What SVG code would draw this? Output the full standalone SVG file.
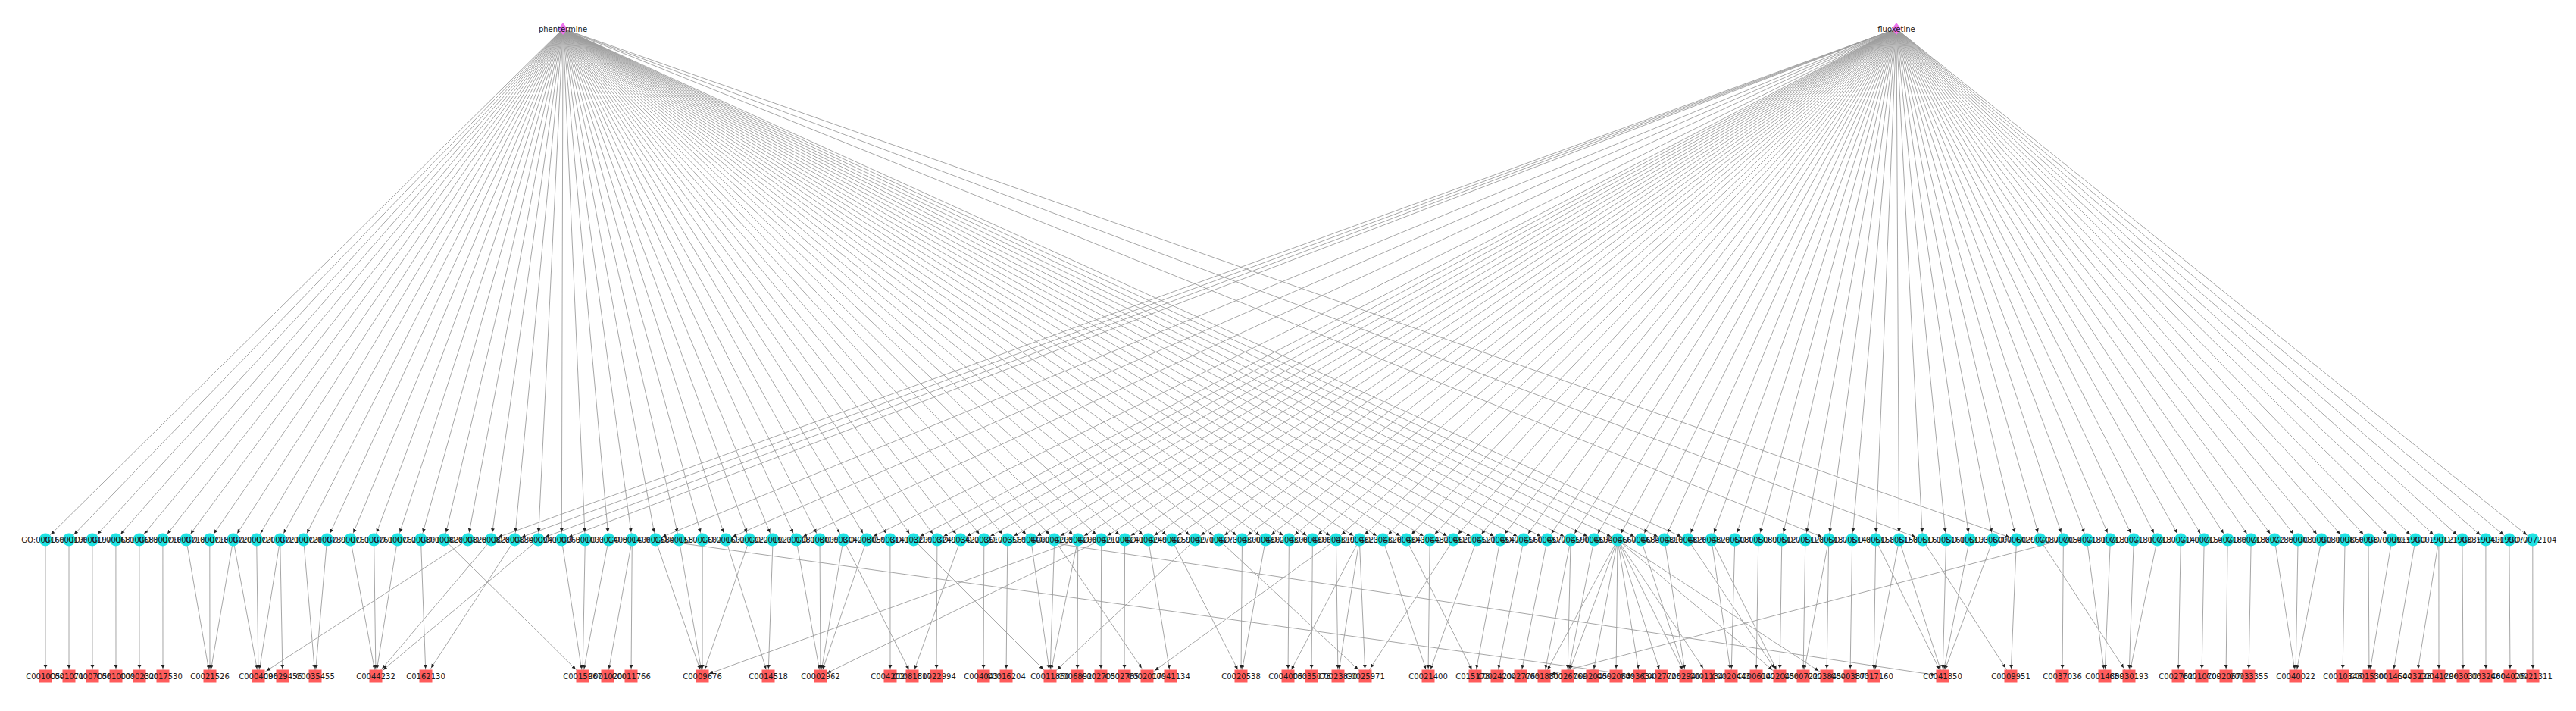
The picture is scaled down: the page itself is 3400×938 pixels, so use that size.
<svg xmlns="http://www.w3.org/2000/svg" width="3400" height="938" viewBox="0 0 3400 938">
<style>
.e{stroke:#9c9c9c;stroke-width:0.9;fill:none;marker-end:url(#a)}
.f{stroke:#9c9c9c;stroke-width:0.9;fill:none;marker-end:url(#b)}
.go circle{fill:#1fe3e3}
.cu rect{fill:#ff5c5c}
.dr polygon{fill:#ee72ee}
text{font-family:"DejaVu Sans","Liberation Sans",sans-serif;font-size:10px;fill:#1a1a1a;text-anchor:middle}
</style>
<defs>
<marker id="a" viewBox="0 0 15 6" refX="15" refY="3" markerWidth="15" markerHeight="6" markerUnits="userSpaceOnUse" orient="auto"><path d="M0,0.6L5,3L0,5.4z" fill="#222"/></marker>
<marker id="b" viewBox="0 0 18 6" refX="18" refY="3" markerWidth="18" markerHeight="6" markerUnits="userSpaceOnUse" orient="auto"><path d="M0,0.6L5,3L0,5.4z" fill="#222"/></marker>
</defs>
<rect width="3400" height="938" fill="#fff"/>
<g id="connectors">
<g id="from-phentermine">
<path class="e" d="M743 38L60 712"/><path class="e" d="M743 38L91 712"/><path class="e" d="M743 38L121.9 712"/><path class="e" d="M743 38L152.9 712"/><path class="e" d="M743 38L183.9 712"/><path class="e" d="M743 38L214.9 712"/><path class="e" d="M743 38L245.8 712"/><path class="e" d="M743 38L276.8 712"/><path class="e" d="M743 38L307.8 712"/><path class="e" d="M743 38L338.7 712"/><path class="e" d="M743 38L369.7 712"/><path class="e" d="M743 38L400.7 712"/><path class="e" d="M743 38L431.6 712"/><path class="e" d="M743 38L462.6 712"/><path class="e" d="M743 38L493.6 712"/><path class="e" d="M743 38L524.6 712"/><path class="e" d="M743 38L555.5 712"/><path class="e" d="M743 38L586.5 712"/><path class="e" d="M743 38L617.5 712"/><path class="e" d="M743 38L648.4 712"/><path class="e" d="M743 38L679.4 712"/><path class="e" d="M743 38L710.4 712"/><path class="e" d="M743 38L741.3 712"/><path class="e" d="M743 38L772.3 712"/><path class="e" d="M743 38L803.3 712"/><path class="e" d="M743 38L834.3 712"/><path class="e" d="M743 38L865.2 712"/><path class="e" d="M743 38L896.2 712"/><path class="e" d="M743 38L927.2 712"/><path class="e" d="M743 38L958.1 712"/><path class="e" d="M743 38L989.1 712"/><path class="e" d="M743 38L1020.1 712"/><path class="e" d="M743 38L1051 712"/><path class="e" d="M743 38L1082 712"/><path class="e" d="M743 38L1113 712"/><path class="e" d="M743 38L1144 712"/><path class="e" d="M743 38L1174.9 712"/><path class="e" d="M743 38L1205.9 712"/><path class="e" d="M743 38L1236.9 712"/><path class="e" d="M743 38L1267.8 712"/><path class="e" d="M743 38L1298.8 712"/><path class="e" d="M743 38L1329.8 712"/><path class="e" d="M743 38L1360.7 712"/><path class="e" d="M743 38L1391.7 712"/><path class="e" d="M743 38L1422.7 712"/><path class="e" d="M743 38L1453.7 712"/><path class="e" d="M743 38L1484.6 712"/><path class="e" d="M743 38L1515.6 712"/><path class="e" d="M743 38L1546.6 712"/><path class="e" d="M743 38L1577.5 712"/><path class="e" d="M743 38L1608.5 712"/><path class="e" d="M743 38L1639.5 712"/><path class="e" d="M743 38L1670.4 712"/><path class="e" d="M743 38L1701.4 712"/><path class="e" d="M743 38L1732.4 712"/><path class="e" d="M743 38L1763.4 712"/><path class="e" d="M743 38L1794.3 712"/><path class="e" d="M743 38L1825.3 712"/><path class="e" d="M743 38L1856.3 712"/><path class="e" d="M743 38L1887.2 712"/><path class="e" d="M743 38L1918.2 712"/><path class="e" d="M743 38L1949.2 712"/><path class="e" d="M743 38L1980.1 712"/><path class="e" d="M743 38L2011.1 712"/><path class="e" d="M743 38L2042.1 712"/><path class="e" d="M743 38L2073.1 712"/><path class="e" d="M743 38L2104 712"/><path class="e" d="M743 38L2135 712"/><path class="e" d="M743 38L2166 712"/><path class="e" d="M743 38L2196.9 712"/><path class="e" d="M743 38L2227.9 712"/><path class="e" d="M743 38L2413.7 712"/><path class="e" d="M743 38L2537.6 712"/><path class="e" d="M743 38L2661.5 712"/>
</g>
<g id="from-fluoxetine">
<path class="e" d="M2503 38L648.4 712"/><path class="e" d="M2503 38L679.4 712"/><path class="e" d="M2503 38L710.4 712"/><path class="e" d="M2503 38L741.3 712"/><path class="e" d="M2503 38L865.2 712"/><path class="e" d="M2503 38L958.1 712"/><path class="e" d="M2503 38L1051 712"/><path class="e" d="M2503 38L1144 712"/><path class="e" d="M2503 38L1205.9 712"/><path class="e" d="M2503 38L1236.9 712"/><path class="e" d="M2503 38L1267.8 712"/><path class="e" d="M2503 38L1298.8 712"/><path class="e" d="M2503 38L1329.8 712"/><path class="e" d="M2503 38L1360.7 712"/><path class="e" d="M2503 38L1391.7 712"/><path class="e" d="M2503 38L1422.7 712"/><path class="e" d="M2503 38L1453.7 712"/><path class="e" d="M2503 38L1484.6 712"/><path class="e" d="M2503 38L1515.6 712"/><path class="e" d="M2503 38L1546.6 712"/><path class="e" d="M2503 38L1577.5 712"/><path class="e" d="M2503 38L1608.5 712"/><path class="e" d="M2503 38L1639.5 712"/><path class="e" d="M2503 38L1670.4 712"/><path class="e" d="M2503 38L1701.4 712"/><path class="e" d="M2503 38L1732.4 712"/><path class="e" d="M2503 38L1763.4 712"/><path class="e" d="M2503 38L1794.3 712"/><path class="e" d="M2503 38L1825.3 712"/><path class="e" d="M2503 38L1856.3 712"/><path class="e" d="M2503 38L1887.2 712"/><path class="e" d="M2503 38L1918.2 712"/><path class="e" d="M2503 38L1949.2 712"/><path class="e" d="M2503 38L1980.1 712"/><path class="e" d="M2503 38L2011.1 712"/><path class="e" d="M2503 38L2042.1 712"/><path class="e" d="M2503 38L2073.1 712"/><path class="e" d="M2503 38L2104 712"/><path class="e" d="M2503 38L2135 712"/><path class="e" d="M2503 38L2166 712"/><path class="e" d="M2503 38L2196.9 712"/><path class="e" d="M2503 38L2227.9 712"/><path class="e" d="M2503 38L2258.9 712"/><path class="e" d="M2503 38L2289.8 712"/><path class="e" d="M2503 38L2320.8 712"/><path class="e" d="M2503 38L2351.8 712"/><path class="e" d="M2503 38L2382.8 712"/><path class="e" d="M2503 38L2413.7 712"/><path class="e" d="M2503 38L2444.7 712"/><path class="e" d="M2503 38L2475.7 712"/><path class="e" d="M2503 38L2506.6 712"/><path class="e" d="M2503 38L2537.6 712"/><path class="e" d="M2503 38L2568.6 712"/><path class="e" d="M2503 38L2599.5 712"/><path class="e" d="M2503 38L2630.5 712"/><path class="e" d="M2503 38L2661.5 712"/><path class="e" d="M2503 38L2692.5 712"/><path class="e" d="M2503 38L2723.4 712"/><path class="e" d="M2503 38L2754.4 712"/><path class="e" d="M2503 38L2785.4 712"/><path class="e" d="M2503 38L2816.3 712"/><path class="e" d="M2503 38L2847.3 712"/><path class="e" d="M2503 38L2878.3 712"/><path class="e" d="M2503 38L2909.2 712"/><path class="e" d="M2503 38L2940.2 712"/><path class="e" d="M2503 38L2971.2 712"/><path class="e" d="M2503 38L3002.2 712"/><path class="e" d="M2503 38L3033.1 712"/><path class="e" d="M2503 38L3064.1 712"/><path class="e" d="M2503 38L3095.1 712"/><path class="e" d="M2503 38L3126 712"/><path class="e" d="M2503 38L3157 712"/><path class="e" d="M2503 38L3188 712"/><path class="e" d="M2503 38L3218.9 712"/><path class="e" d="M2503 38L3249.9 712"/><path class="e" d="M2503 38L3280.9 712"/><path class="e" d="M2503 38L3311.9 712"/><path class="e" d="M2503 38L3342.8 712"/>
</g>
<g id="go-to-compound">
<path class="e" d="M60 712L60 892"/><path class="e" d="M91 712L91 892"/><path class="e" d="M121.9 712L122 892"/><path class="e" d="M152.9 712L153 892"/><path class="e" d="M183.9 712L184 892"/><path class="e" d="M214.9 712L215 892"/>
<path class="e" d="M245.8 712L277 892"/><path class="e" d="M276.8 712L277 892"/><path class="e" d="M307.8 712L277 892"/><path class="e" d="M307.8 712L341 892"/><path class="e" d="M338.7 712L341 892"/><path class="e" d="M369.7 712L341 892"/><path class="e" d="M369.7 712L373 892"/><path class="e" d="M400.7 712L416 892"/><path class="e" d="M431.6 712L416 892"/><path class="e" d="M462.6 712L496 892"/><path class="e" d="M493.6 712L496 892"/><path class="e" d="M524.6 712L496 892"/><path class="e" d="M555.5 712L562 892"/>
<path class="f" d="M586.5 712L769 892"/><path class="f" d="M617.5 712L341 892"/><path class="f" d="M648.4 712L496 892"/><path class="f" d="M679.4 712L562 892"/><path class="f" d="M710.4 712L496 892"/>
<path class="e" d="M741.3 712L769 892"/><path class="e" d="M772.3 712L769 892"/><path class="e" d="M803.3 712L769 892"/><path class="e" d="M834.3 712L802 892"/><path class="e" d="M834.3 712L833 892"/><path class="e" d="M865.2 712L927 892"/><path class="e" d="M865.2 712L2164 892"/><path class="e" d="M896.2 712L927 892"/><path class="e" d="M927.2 712L927 892"/><path class="e" d="M958.1 712L1014 892"/><path class="e" d="M989.1 712L927 892"/><path class="e" d="M1020.1 712L1014 892"/><path class="e" d="M1051 712L1083 892"/><path class="e" d="M1082 712L1083 892"/><path class="e" d="M1113 712L1083 892"/><path class="e" d="M1113 712L1204 892"/><path class="e" d="M1144 712L1083 892"/><path class="e" d="M1174.9 712L1175 892"/>
<path class="f" d="M1205.9 712L1386 892"/><path class="e" d="M1236.9 712L1236 892"/><path class="e" d="M1267.8 712L1204 892"/><path class="e" d="M1298.8 712L1298 892"/><path class="e" d="M1329.8 712L1328 892"/><path class="e" d="M1360.7 712L1386 892"/><path class="e" d="M1360.7 712L2564 892"/><path class="e" d="M1391.7 712L1386 892"/><path class="f" d="M1391.7 712L1514 892"/><path class="e" d="M1422.7 712L1422 892"/><path class="e" d="M1422.7 712L1386 892"/><path class="e" d="M1422.7 712L927 892"/><path class="e" d="M1453.7 712L1453 892"/><path class="e" d="M1453.7 712L1083 892"/><path class="e" d="M1484.6 712L1484 892"/><path class="e" d="M1515.6 712L1545 892"/><path class="e" d="M1546.6 712L1638 892"/><path class="f" d="M1577.5 712L1386 892"/><path class="f" d="M1608.5 712L1802 892"/><path class="e" d="M1639.5 712L1638 892"/><path class="e" d="M1670.4 712L1638 892"/>
<path class="e" d="M1701.4 712L1700 892"/><path class="e" d="M1732.4 712L1731 892"/><path class="e" d="M1763.4 712L1766 892"/><path class="f" d="M1763.4 712L1514 892"/><path class="e" d="M1794.3 712L1766 892"/><path class="e" d="M1794.3 712L1802 892"/><path class="e" d="M1794.3 712L1700 892"/><path class="e" d="M1825.3 712L1885 892"/><path class="e" d="M1856.3 712L1947 892"/><path class="e" d="M1887.2 712L1885 892"/><path class="f" d="M1918.2 712L1802 892"/><path class="e" d="M1949.2 712L1885 892"/><path class="e" d="M1980.1 712L1947 892"/><path class="e" d="M2011.1 712L1976 892"/><path class="e" d="M2042.1 712L2007 892"/><path class="e" d="M2073.1 712L2069 892"/><path class="e" d="M2073.1 712L2038 892"/><path class="e" d="M2104 712L2069 892"/>
<path class="e" d="M2135 712L2038 892"/><path class="e" d="M2135 712L2069 892"/><path class="e" d="M2135 712L2102 892"/><path class="e" d="M2135 712L2133 892"/><path class="e" d="M2135 712L2164 892"/><path class="e" d="M2135 712L2193 892"/><path class="e" d="M2135 712L2225 892"/><path class="f" d="M2135 712L2255 892"/><path class="f" d="M2135 712L2349 892"/><path class="f" d="M2135 712L2411 892"/>
<path class="e" d="M2166 712L2225 892"/><path class="e" d="M2196.9 712L2225 892"/><path class="f" d="M2227.9 712L2349 892"/><path class="e" d="M2258.9 712L2285 892"/><path class="e" d="M2258.9 712L2349 892"/><path class="e" d="M2289.8 712L2285 892"/><path class="e" d="M2320.8 712L2318 892"/><path class="e" d="M2351.8 712L2349 892"/><path class="e" d="M2382.8 712L2380 892"/><path class="e" d="M2413.7 712L2380 892"/><path class="e" d="M2413.7 712L2411 892"/><path class="e" d="M2444.7 712L2442 892"/><path class="e" d="M2475.7 712L2473 892"/><path class="e" d="M2475.7 712L2564 892"/><path class="e" d="M2506.6 712L2473 892"/><path class="e" d="M2506.6 712L2564 892"/><path class="f" d="M2537.6 712L2654 892"/><path class="e" d="M2568.6 712L2564 892"/><path class="e" d="M2599.5 712L2564 892"/><path class="e" d="M2630.5 712L2564 892"/><path class="e" d="M2661.5 712L2654 892"/><path class="f" d="M2692.5 712L2810 892"/><path class="e" d="M2723.4 712L2722 892"/><path class="e" d="M2723.4 712L2038 892"/><path class="e" d="M2754.4 712L2778 892"/><path class="e" d="M2785.4 712L2778 892"/>
<path class="e" d="M2816.3 712L2810 892"/><path class="e" d="M2847.3 712L2810 892"/><path class="e" d="M2878.3 712L2875 892"/><path class="e" d="M2909.2 712L2906 892"/><path class="e" d="M2940.2 712L2938 892"/><path class="e" d="M2971.2 712L2968 892"/><path class="e" d="M3002.2 712L3030 892"/><path class="e" d="M3033.1 712L3030 892"/><path class="e" d="M3064.1 712L3030 892"/><path class="e" d="M3095.1 712L3092 892"/><path class="e" d="M3126 712L3127 892"/><path class="e" d="M3157 712L3127 892"/><path class="e" d="M3188 712L3158 892"/><path class="e" d="M3218.9 712L3190 892"/><path class="e" d="M3218.9 712L3219 892"/><path class="e" d="M3249.9 712L3251 892"/><path class="e" d="M3280.9 712L3281 892"/><path class="e" d="M3311.9 712L3313 892"/><path class="e" d="M3342.8 712L3343 892"/>
</g>
</g>
<g id="drugs" class="dr">
<g id="n_phentermine"><polygon points="743,30 749,38 743,46 737,38"/><text x="743" y="41.5">phentermine</text></g>
<g id="n_fluoxetine"><polygon points="2503,30 2509,38 2503,46 2497,38"/><text x="2503" y="41.5">fluoxetine</text></g>
</g>
<g id="go-terms" class="go">
<g id="n_GO_0001662"><circle cx="60" cy="712" r="8.5"/><text x="60" y="715.5">GO:0001662</text></g>
<g id="n_GO_0001964"><circle cx="91" cy="712" r="8.5"/><text x="91" y="715.5">GO:0001964</text></g>
<g id="n_GO_0001975"><circle cx="121.9" cy="712" r="8.5"/><text x="121.9" y="715.5">GO:0001975</text></g>
<g id="n_GO_0006810"><circle cx="152.9" cy="712" r="8.5"/><text x="152.9" y="715.5">GO:0006810</text></g>
<g id="n_GO_0006836"><circle cx="183.9" cy="712" r="8.5"/><text x="183.9" y="715.5">GO:0006836</text></g>
<g id="n_GO_0007165"><circle cx="214.9" cy="712" r="8.5"/><text x="214.9" y="715.5">GO:0007165</text></g>
<g id="n_GO_0007186"><circle cx="245.8" cy="712" r="8.5"/><text x="245.8" y="715.5">GO:0007186</text></g>
<g id="n_GO_0007187"><circle cx="276.8" cy="712" r="8.5"/><text x="276.8" y="715.5">GO:0007187</text></g>
<g id="n_GO_0007200"><circle cx="307.8" cy="712" r="8.5"/><text x="307.8" y="715.5">GO:0007200</text></g>
<g id="n_GO_0007204"><circle cx="338.7" cy="712" r="8.5"/><text x="338.7" y="715.5">GO:0007204</text></g>
<g id="n_GO_0007210"><circle cx="369.7" cy="712" r="8.5"/><text x="369.7" y="715.5">GO:0007210</text></g>
<g id="n_GO_0007268"><circle cx="400.7" cy="712" r="8.5"/><text x="400.7" y="715.5">GO:0007268</text></g>
<g id="n_GO_0007399"><circle cx="431.6" cy="712" r="8.5"/><text x="431.6" y="715.5">GO:0007399</text></g>
<g id="n_GO_0007610"><circle cx="462.6" cy="712" r="8.5"/><text x="462.6" y="715.5">GO:0007610</text></g>
<g id="n_GO_0007613"><circle cx="493.6" cy="712" r="8.5"/><text x="493.6" y="715.5">GO:0007613</text></g>
<g id="n_GO_0007626"><circle cx="524.6" cy="712" r="8.5"/><text x="524.6" y="715.5">GO:0007626</text></g>
<g id="n_GO_0008015"><circle cx="555.5" cy="712" r="8.5"/><text x="555.5" y="715.5">GO:0008015</text></g>
<g id="n_GO_0008283"><circle cx="586.5" cy="712" r="8.5"/><text x="586.5" y="715.5">GO:0008283</text></g>
<g id="n_GO_0008284"><circle cx="617.5" cy="712" r="8.5"/><text x="617.5" y="715.5">GO:0008284</text></g>
<g id="n_GO_0008285"><circle cx="648.4" cy="712" r="8.5"/><text x="648.4" y="715.5">GO:0008285</text></g>
<g id="n_GO_0008344"><circle cx="679.4" cy="712" r="8.5"/><text x="679.4" y="715.5">GO:0008344</text></g>
<g id="n_GO_0009410"><circle cx="710.4" cy="712" r="8.5"/><text x="710.4" y="715.5">GO:0009410</text></g>
<g id="n_GO_0009636"><circle cx="741.3" cy="712" r="8.5"/><text x="741.3" y="715.5">GO:0009636</text></g>
<g id="n_GO_0010033"><circle cx="772.3" cy="712" r="8.5"/><text x="772.3" y="715.5">GO:0010033</text></g>
<g id="n_GO_0014059"><circle cx="803.3" cy="712" r="8.5"/><text x="803.3" y="715.5">GO:0014059</text></g>
<g id="n_GO_0014064"><circle cx="834.3" cy="712" r="8.5"/><text x="834.3" y="715.5">GO:0014064</text></g>
<g id="n_GO_0015844"><circle cx="865.2" cy="712" r="8.5"/><text x="865.2" y="715.5">GO:0015844</text></g>
<g id="n_GO_0015872"><circle cx="896.2" cy="712" r="8.5"/><text x="896.2" y="715.5">GO:0015872</text></g>
<g id="n_GO_0016020"><circle cx="927.2" cy="712" r="8.5"/><text x="927.2" y="715.5">GO:0016020</text></g>
<g id="n_GO_0016021"><circle cx="958.1" cy="712" r="8.5"/><text x="958.1" y="715.5">GO:0016021</text></g>
<g id="n_GO_0019229"><circle cx="989.1" cy="712" r="8.5"/><text x="989.1" y="715.5">GO:0019229</text></g>
<g id="n_GO_0019233"><circle cx="1020.1" cy="712" r="8.5"/><text x="1020.1" y="715.5">GO:0019233</text></g>
<g id="n_GO_0019811"><circle cx="1051" cy="712" r="8.5"/><text x="1051" y="715.5">GO:0019811</text></g>
<g id="n_GO_0030054"><circle cx="1082" cy="712" r="8.5"/><text x="1082" y="715.5">GO:0030054</text></g>
<g id="n_GO_0030425"><circle cx="1113" cy="712" r="8.5"/><text x="1113" y="715.5">GO:0030425</text></g>
<g id="n_GO_0030594"><circle cx="1144" cy="712" r="8.5"/><text x="1144" y="715.5">GO:0030594</text></g>
<g id="n_GO_0031410"><circle cx="1174.9" cy="712" r="8.5"/><text x="1174.9" y="715.5">GO:0031410</text></g>
<g id="n_GO_0032094"><circle cx="1205.9" cy="712" r="8.5"/><text x="1205.9" y="715.5">GO:0032094</text></g>
<g id="n_GO_0032496"><circle cx="1236.9" cy="712" r="8.5"/><text x="1236.9" y="715.5">GO:0032496</text></g>
<g id="n_GO_0034220"><circle cx="1267.8" cy="712" r="8.5"/><text x="1267.8" y="715.5">GO:0034220</text></g>
<g id="n_GO_0035176"><circle cx="1298.8" cy="712" r="8.5"/><text x="1298.8" y="715.5">GO:0035176</text></g>
<g id="n_GO_0035690"><circle cx="1329.8" cy="712" r="8.5"/><text x="1329.8" y="715.5">GO:0035690</text></g>
<g id="n_GO_0040008"><circle cx="1360.7" cy="712" r="8.5"/><text x="1360.7" y="715.5">GO:0040008</text></g>
<g id="n_GO_0042053"><circle cx="1391.7" cy="712" r="8.5"/><text x="1391.7" y="715.5">GO:0042053</text></g>
<g id="n_GO_0042060"><circle cx="1422.7" cy="712" r="8.5"/><text x="1422.7" y="715.5">GO:0042060</text></g>
<g id="n_GO_0042127"><circle cx="1453.7" cy="712" r="8.5"/><text x="1453.7" y="715.5">GO:0042127</text></g>
<g id="n_GO_0042415"><circle cx="1484.6" cy="712" r="8.5"/><text x="1484.6" y="715.5">GO:0042415</text></g>
<g id="n_GO_0042493"><circle cx="1515.6" cy="712" r="8.5"/><text x="1515.6" y="715.5">GO:0042493</text></g>
<g id="n_GO_0042596"><circle cx="1546.6" cy="712" r="8.5"/><text x="1546.6" y="715.5">GO:0042596</text></g>
<g id="n_GO_0042711"><circle cx="1577.5" cy="712" r="8.5"/><text x="1577.5" y="715.5">GO:0042711</text></g>
<g id="n_GO_0042734"><circle cx="1608.5" cy="712" r="8.5"/><text x="1608.5" y="715.5">GO:0042734</text></g>
<g id="n_GO_0043005"><circle cx="1639.5" cy="712" r="8.5"/><text x="1639.5" y="715.5">GO:0043005</text></g>
<g id="n_GO_0043025"><circle cx="1670.4" cy="712" r="8.5"/><text x="1670.4" y="715.5">GO:0043025</text></g>
<g id="n_GO_0043065"><circle cx="1701.4" cy="712" r="8.5"/><text x="1701.4" y="715.5">GO:0043065</text></g>
<g id="n_GO_0043066"><circle cx="1732.4" cy="712" r="8.5"/><text x="1732.4" y="715.5">GO:0043066</text></g>
<g id="n_GO_0043197"><circle cx="1763.4" cy="712" r="8.5"/><text x="1763.4" y="715.5">GO:0043197</text></g>
<g id="n_GO_0043231"><circle cx="1794.3" cy="712" r="8.5"/><text x="1794.3" y="715.5">GO:0043231</text></g>
<g id="n_GO_0043266"><circle cx="1825.3" cy="712" r="8.5"/><text x="1825.3" y="715.5">GO:0043266</text></g>
<g id="n_GO_0043434"><circle cx="1856.3" cy="712" r="8.5"/><text x="1856.3" y="715.5">GO:0043434</text></g>
<g id="n_GO_0044325"><circle cx="1887.2" cy="712" r="8.5"/><text x="1887.2" y="715.5">GO:0044325</text></g>
<g id="n_GO_0045202"><circle cx="1918.2" cy="712" r="8.5"/><text x="1918.2" y="715.5">GO:0045202</text></g>
<g id="n_GO_0045211"><circle cx="1949.2" cy="712" r="8.5"/><text x="1949.2" y="715.5">GO:0045211</text></g>
<g id="n_GO_0045471"><circle cx="1980.1" cy="712" r="8.5"/><text x="1980.1" y="715.5">GO:0045471</text></g>
<g id="n_GO_0045600"><circle cx="2011.1" cy="712" r="8.5"/><text x="2011.1" y="715.5">GO:0045600</text></g>
<g id="n_GO_0045776"><circle cx="2042.1" cy="712" r="8.5"/><text x="2042.1" y="715.5">GO:0045776</text></g>
<g id="n_GO_0045907"><circle cx="2073.1" cy="712" r="8.5"/><text x="2073.1" y="715.5">GO:0045907</text></g>
<g id="n_GO_0045944"><circle cx="2104" cy="712" r="8.5"/><text x="2104" y="715.5">GO:0045944</text></g>
<g id="n_GO_0046677"><circle cx="2135" cy="712" r="8.5"/><text x="2135" y="715.5">GO:0046677</text></g>
<g id="n_GO_0046849"><circle cx="2166" cy="712" r="8.5"/><text x="2166" y="715.5">GO:0046849</text></g>
<g id="n_GO_0048167"><circle cx="2196.9" cy="712" r="8.5"/><text x="2196.9" y="715.5">GO:0048167</text></g>
<g id="n_GO_0048265"><circle cx="2227.9" cy="712" r="8.5"/><text x="2227.9" y="715.5">GO:0048265</text></g>
<g id="n_GO_0048266"><circle cx="2258.9" cy="712" r="8.5"/><text x="2258.9" y="715.5">GO:0048266</text></g>
<g id="n_GO_0050806"><circle cx="2289.8" cy="712" r="8.5"/><text x="2289.8" y="715.5">GO:0050806</text></g>
<g id="n_GO_0050890"><circle cx="2320.8" cy="712" r="8.5"/><text x="2320.8" y="715.5">GO:0050890</text></g>
<g id="n_GO_0051279"><circle cx="2351.8" cy="712" r="8.5"/><text x="2351.8" y="715.5">GO:0051279</text></g>
<g id="n_GO_0051281"><circle cx="2382.8" cy="712" r="8.5"/><text x="2382.8" y="715.5">GO:0051281</text></g>
<g id="n_GO_0051378"><circle cx="2413.7" cy="712" r="8.5"/><text x="2413.7" y="715.5">GO:0051378</text></g>
<g id="n_GO_0051482"><circle cx="2444.7" cy="712" r="8.5"/><text x="2444.7" y="715.5">GO:0051482</text></g>
<g id="n_GO_0051583"><circle cx="2475.7" cy="712" r="8.5"/><text x="2475.7" y="715.5">GO:0051583</text></g>
<g id="n_GO_0051584"><circle cx="2506.6" cy="712" r="8.5"/><text x="2506.6" y="715.5">GO:0051584</text></g>
<g id="n_GO_0051610"><circle cx="2537.6" cy="712" r="8.5"/><text x="2537.6" y="715.5">GO:0051610</text></g>
<g id="n_GO_0051615"><circle cx="2568.6" cy="712" r="8.5"/><text x="2568.6" y="715.5">GO:0051615</text></g>
<g id="n_GO_0051930"><circle cx="2599.5" cy="712" r="8.5"/><text x="2599.5" y="715.5">GO:0051930</text></g>
<g id="n_GO_0060079"><circle cx="2630.5" cy="712" r="8.5"/><text x="2630.5" y="715.5">GO:0060079</text></g>
<g id="n_GO_0060291"><circle cx="2661.5" cy="712" r="8.5"/><text x="2661.5" y="715.5">GO:0060291</text></g>
<g id="n_GO_0070374"><circle cx="2692.5" cy="712" r="8.5"/><text x="2692.5" y="715.5">GO:0070374</text></g>
<g id="n_GO_0070542"><circle cx="2723.4" cy="712" r="8.5"/><text x="2723.4" y="715.5">GO:0070542</text></g>
<g id="n_GO_0071312"><circle cx="2754.4" cy="712" r="8.5"/><text x="2754.4" y="715.5">GO:0071312</text></g>
<g id="n_GO_0071314"><circle cx="2785.4" cy="712" r="8.5"/><text x="2785.4" y="715.5">GO:0071314</text></g>
<g id="n_GO_0071316"><circle cx="2816.3" cy="712" r="8.5"/><text x="2816.3" y="715.5">GO:0071316</text></g>
<g id="n_GO_0071377"><circle cx="2847.3" cy="712" r="8.5"/><text x="2847.3" y="715.5">GO:0071377</text></g>
<g id="n_GO_0071407"><circle cx="2878.3" cy="712" r="8.5"/><text x="2878.3" y="715.5">GO:0071407</text></g>
<g id="n_GO_0071548"><circle cx="2909.2" cy="712" r="8.5"/><text x="2909.2" y="715.5">GO:0071548</text></g>
<g id="n_GO_0071867"><circle cx="2940.2" cy="712" r="8.5"/><text x="2940.2" y="715.5">GO:0071867</text></g>
<g id="n_GO_0071880"><circle cx="2971.2" cy="712" r="8.5"/><text x="2971.2" y="715.5">GO:0071880</text></g>
<g id="n_GO_0072359"><circle cx="3002.2" cy="712" r="8.5"/><text x="3002.2" y="715.5">GO:0072359</text></g>
<g id="n_GO_0090313"><circle cx="3033.1" cy="712" r="8.5"/><text x="3033.1" y="715.5">GO:0090313</text></g>
<g id="n_GO_0090316"><circle cx="3064.1" cy="712" r="8.5"/><text x="3064.1" y="715.5">GO:0090316</text></g>
<g id="n_GO_0098664"><circle cx="3095.1" cy="712" r="8.5"/><text x="3095.1" y="715.5">GO:0098664</text></g>
<g id="n_GO_0098793"><circle cx="3126" cy="712" r="8.5"/><text x="3126" y="715.5">GO:0098793</text></g>
<g id="n_GO_0099154"><circle cx="3157" cy="712" r="8.5"/><text x="3157" y="715.5">GO:0099154</text></g>
<g id="n_GO_1900020"><circle cx="3188" cy="712" r="8.5"/><text x="3188" y="715.5">GO:1900020</text></g>
<g id="n_GO_1901215"><circle cx="3218.9" cy="712" r="8.5"/><text x="3218.9" y="715.5">GO:1901215</text></g>
<g id="n_GO_1903351"><circle cx="3249.9" cy="712" r="8.5"/><text x="3249.9" y="715.5">GO:1903351</text></g>
<g id="n_GO_1904009"><circle cx="3280.9" cy="712" r="8.5"/><text x="3280.9" y="715.5">GO:1904009</text></g>
<g id="n_GO_1990776"><circle cx="3311.9" cy="712" r="8.5"/><text x="3311.9" y="715.5">GO:1990776</text></g>
<g id="n_GO_0072104"><circle cx="3342.8" cy="712" r="8.5"/><text x="3342.8" y="715.5">GO:0072104</text></g>
</g>
<g id="compounds" class="cu">
<g id="n_C0010054"><rect x="51.5" y="883.5" width="17" height="17"/><text x="60" y="895.5">C0010054</text></g>
<g id="n_C0010711"><rect x="82.5" y="883.5" width="17" height="17"/><text x="91" y="895.5">C0010711</text></g>
<g id="n_C0007056"><rect x="113.5" y="883.5" width="17" height="17"/><text x="122" y="895.5">C0007056</text></g>
<g id="n_C0010009"><rect x="144.5" y="883.5" width="17" height="17"/><text x="153" y="895.5">C0010009</text></g>
<g id="n_C0002320"><rect x="175.5" y="883.5" width="17" height="17"/><text x="184" y="895.5">C0002320</text></g>
<g id="n_C0017530"><rect x="206.5" y="883.5" width="17" height="17"/><text x="215" y="895.5">C0017530</text></g>
<g id="n_C0021526"><rect x="268.5" y="883.5" width="17" height="17"/><text x="277" y="895.5">C0021526</text></g>
<g id="n_C0004096"><rect x="332.5" y="883.5" width="17" height="17"/><text x="341" y="895.5">C0004096</text></g>
<g id="n_C0029456"><rect x="364.5" y="883.5" width="17" height="17"/><text x="373" y="895.5">C0029456</text></g>
<g id="n_C0035455"><rect x="407.5" y="883.5" width="17" height="17"/><text x="416" y="895.5">C0035455</text></g>
<g id="n_C0044232"><rect x="487.5" y="883.5" width="17" height="17"/><text x="496" y="895.5">C0044232</text></g>
<g id="n_C0162130"><rect x="553.5" y="883.5" width="17" height="17"/><text x="562" y="895.5">C0162130</text></g>
<g id="n_C0015967"><rect x="760.5" y="883.5" width="17" height="17"/><text x="769" y="895.5">C0015967</text></g>
<g id="n_C0010200"><rect x="793.5" y="883.5" width="17" height="17"/><text x="802" y="895.5">C0010200</text></g>
<g id="n_C0011766"><rect x="824.5" y="883.5" width="17" height="17"/><text x="833" y="895.5">C0011766</text></g>
<g id="n_C0009676"><rect x="918.5" y="883.5" width="17" height="17"/><text x="927" y="895.5">C0009676</text></g>
<g id="n_C0014518"><rect x="1005.5" y="883.5" width="17" height="17"/><text x="1014" y="895.5">C0014518</text></g>
<g id="n_C0002962"><rect x="1074.5" y="883.5" width="17" height="17"/><text x="1083" y="895.5">C0002962</text></g>
<g id="n_C0042029"><rect x="1166.5" y="883.5" width="17" height="17"/><text x="1175" y="895.5">C0042029</text></g>
<g id="n_C0081817"><rect x="1195.5" y="883.5" width="17" height="17"/><text x="1204" y="895.5">C0081817</text></g>
<g id="n_C0022994"><rect x="1227.5" y="883.5" width="17" height="17"/><text x="1236" y="895.5">C0022994</text></g>
<g id="n_C0040435"><rect x="1289.5" y="883.5" width="17" height="17"/><text x="1298" y="895.5">C0040435</text></g>
<g id="n_C0016204"><rect x="1319.5" y="883.5" width="17" height="17"/><text x="1328" y="895.5">C0016204</text></g>
<g id="n_C0011860"><rect x="1377.5" y="883.5" width="17" height="17"/><text x="1386" y="895.5">C0011860</text></g>
<g id="n_C0068920"><rect x="1413.5" y="883.5" width="17" height="17"/><text x="1422" y="895.5">C0068920</text></g>
<g id="n_C0027051"><rect x="1444.5" y="883.5" width="17" height="17"/><text x="1453" y="895.5">C0027051</text></g>
<g id="n_C0027651"><rect x="1475.5" y="883.5" width="17" height="17"/><text x="1484" y="895.5">C0027651</text></g>
<g id="n_C0020179"><rect x="1505.5" y="883.5" width="17" height="17"/><text x="1514" y="895.5">C0020179</text></g>
<g id="n_C0041134"><rect x="1536.5" y="883.5" width="17" height="17"/><text x="1545" y="895.5">C0041134</text></g>
<g id="n_C0020538"><rect x="1629.5" y="883.5" width="17" height="17"/><text x="1638" y="895.5">C0020538</text></g>
<g id="n_C0040053"><rect x="1691.5" y="883.5" width="17" height="17"/><text x="1700" y="895.5">C0040053</text></g>
<g id="n_C0035078"><rect x="1722.5" y="883.5" width="17" height="17"/><text x="1731" y="895.5">C0035078</text></g>
<g id="n_C0023890"><rect x="1757.5" y="883.5" width="17" height="17"/><text x="1766" y="895.5">C0023890</text></g>
<g id="n_C0025971"><rect x="1793.5" y="883.5" width="17" height="17"/><text x="1802" y="895.5">C0025971</text></g>
<g id="n_C0021400"><rect x="1876.5" y="883.5" width="17" height="17"/><text x="1885" y="895.5">C0021400</text></g>
<g id="n_C0151786"><rect x="1938.5" y="883.5" width="17" height="17"/><text x="1947" y="895.5">C0151786</text></g>
<g id="n_C0024204"><rect x="1967.5" y="883.5" width="17" height="17"/><text x="1976" y="895.5">C0024204</text></g>
<g id="n_C0027765"><rect x="1998.5" y="883.5" width="17" height="17"/><text x="2007" y="895.5">C0027765</text></g>
<g id="n_C0018801"><rect x="2029.5" y="883.5" width="17" height="17"/><text x="2038" y="895.5">C0018801</text></g>
<g id="n_C0026769"><rect x="2060.5" y="883.5" width="17" height="17"/><text x="2069" y="895.5">C0026769</text></g>
<g id="n_C0020459"><rect x="2093.5" y="883.5" width="17" height="17"/><text x="2102" y="895.5">C0020459</text></g>
<g id="n_C0020649"><rect x="2124.5" y="883.5" width="17" height="17"/><text x="2133" y="895.5">C0020649</text></g>
<g id="n_C0036341"><rect x="2155.5" y="883.5" width="17" height="17"/><text x="2164" y="895.5">C0036341</text></g>
<g id="n_C0027726"><rect x="2184.5" y="883.5" width="17" height="17"/><text x="2193" y="895.5">C0027726</text></g>
<g id="n_C0029408"><rect x="2216.5" y="883.5" width="17" height="17"/><text x="2225" y="895.5">C0029408</text></g>
<g id="n_C0011849"><rect x="2246.5" y="883.5" width="17" height="17"/><text x="2255" y="895.5">C0011849</text></g>
<g id="n_C0020443"><rect x="2276.5" y="883.5" width="17" height="17"/><text x="2285" y="895.5">C0020443</text></g>
<g id="n_C0006142"><rect x="2309.5" y="883.5" width="17" height="17"/><text x="2318" y="895.5">C0006142</text></g>
<g id="n_C0020456"><rect x="2340.5" y="883.5" width="17" height="17"/><text x="2349" y="895.5">C0020456</text></g>
<g id="n_C0007222"><rect x="2371.5" y="883.5" width="17" height="17"/><text x="2380" y="895.5">C0007222</text></g>
<g id="n_C0038454"><rect x="2402.5" y="883.5" width="17" height="17"/><text x="2411" y="895.5">C0038454</text></g>
<g id="n_C0003873"><rect x="2433.5" y="883.5" width="17" height="17"/><text x="2442" y="895.5">C0003873</text></g>
<g id="n_C0017160"><rect x="2464.5" y="883.5" width="17" height="17"/><text x="2473" y="895.5">C0017160</text></g>
<g id="n_C0041850"><rect x="2555.5" y="883.5" width="17" height="17"/><text x="2564" y="895.5">C0041850</text></g>
<g id="n_C0009951"><rect x="2645.5" y="883.5" width="17" height="17"/><text x="2654" y="895.5">C0009951</text></g>
<g id="n_C0037036"><rect x="2713.5" y="883.5" width="17" height="17"/><text x="2722" y="895.5">C0037036</text></g>
<g id="n_C0014859"><rect x="2769.5" y="883.5" width="17" height="17"/><text x="2778" y="895.5">C0014859</text></g>
<g id="n_C0030193"><rect x="2801.5" y="883.5" width="17" height="17"/><text x="2810" y="895.5">C0030193</text></g>
<g id="n_C0027627"><rect x="2866.5" y="883.5" width="17" height="17"/><text x="2875" y="895.5">C0027627</text></g>
<g id="n_C0010709"><rect x="2897.5" y="883.5" width="17" height="17"/><text x="2906" y="895.5">C0010709</text></g>
<g id="n_C0020676"><rect x="2929.5" y="883.5" width="17" height="17"/><text x="2938" y="895.5">C0020676</text></g>
<g id="n_C0033355"><rect x="2959.5" y="883.5" width="17" height="17"/><text x="2968" y="895.5">C0033355</text></g>
<g id="n_C0040022"><rect x="3021.5" y="883.5" width="17" height="17"/><text x="3030" y="895.5">C0040022</text></g>
<g id="n_C0010346"><rect x="3083.5" y="883.5" width="17" height="17"/><text x="3092" y="895.5">C0010346</text></g>
<g id="n_C0015300"><rect x="3118.5" y="883.5" width="17" height="17"/><text x="3127" y="895.5">C0015300</text></g>
<g id="n_C0014544"><rect x="3149.5" y="883.5" width="17" height="17"/><text x="3158" y="895.5">C0014544</text></g>
<g id="n_C0032285"><rect x="3181.5" y="883.5" width="17" height="17"/><text x="3190" y="895.5">C0032285</text></g>
<g id="n_C0041296"><rect x="3210.5" y="883.5" width="17" height="17"/><text x="3219" y="895.5">C0041296</text></g>
<g id="n_C0030305"><rect x="3242.5" y="883.5" width="17" height="17"/><text x="3251" y="895.5">C0030305</text></g>
<g id="n_C0032460"><rect x="3272.5" y="883.5" width="17" height="17"/><text x="3281" y="895.5">C0032460</text></g>
<g id="n_C0040264"><rect x="3304.5" y="883.5" width="17" height="17"/><text x="3313" y="895.5">C0040264</text></g>
<g id="n_C0021311"><rect x="3334.5" y="883.5" width="17" height="17"/><text x="3343" y="895.5">C0021311</text></g>
</g>
</svg>
